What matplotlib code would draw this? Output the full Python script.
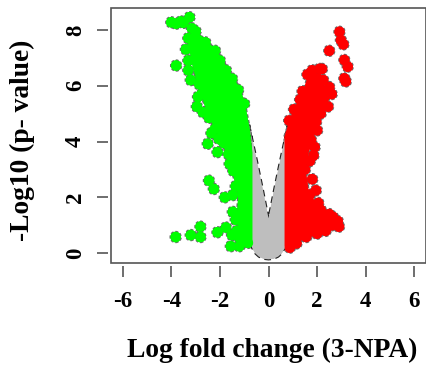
# Volcano plot: 3-NPA log fold change vs -log10 p
import numpy as np
import matplotlib
matplotlib.use('Agg')
import matplotlib.pyplot as plt
from matplotlib.patches import Polygon, Rectangle

plt.rcParams['axes.unicode_minus'] = False

# dense cloud outlines (log fold change, -log10 p)
grey_lfc = [-0.8, -0.5, -0.25, -0.08, 0.0, 0.08, 0.25, 0.5, 0.8, 0.68, 0.68, 0.55, 0.4, 0.2, 0.0, -0.2, -0.4, -0.55, -0.68, -0.68]
grey_nlp = [4.6, 3.4, 2.35, 1.6, 1.25, 1.6, 2.35, 3.4, 4.6, 4.0, 0.2, 0.0, -0.12, -0.2, -0.22, -0.2, -0.12, 0.0, 0.2, 4.0]

green_lfc = [-3.15, -2.85, -2.5, -2.15, -1.8, -1.45, -1.2, -0.99, -0.78, -0.66, -0.66, -0.9, -1.1, -1.25, -1.3, -1.25,
             -1.4, -1.55, -1.75, -2.0, -2.3, -2.55, -2.75, -2.95, -3.15, -3.3]
green_nlp = [8.0, 7.85, 7.55, 7.3, 6.8, 6.3, 5.95, 5.45, 4.5, 3.6, 0.3, 0.25, 0.4, 0.8, 1.4, 2.0,
             2.6, 3.1, 3.6, 4.1, 4.6, 5.1, 5.6, 6.1, 6.8, 7.5]

red_lfc = [0.66, 0.66, 0.85, 1.0, 1.25, 1.45, 1.6, 1.85, 2.15, 2.25, 2.45, 2.5, 2.35, 2.15, 1.95, 1.8, 1.65, 1.6,
           1.5, 1.6, 1.65, 1.85, 1.95, 2.45, 2.8, 2.85, 2.3, 1.55, 1.15, 0.85]
red_nlp = [0.25, 4.2, 4.7, 5.1, 5.5, 5.85, 6.3, 6.45, 6.45, 6.05, 5.85, 5.55, 5.2, 4.85, 4.4, 4.0, 3.6, 3.3,
           3.0, 2.6, 2.2, 1.95, 1.7, 1.45, 1.2, 0.95, 0.75, 0.55, 0.35, 0.15]

# individual genes at the edges of the clouds
down_lfc = [-4.0, -3.8, -3.6, -3.5, -3.25, -3.15, -3.0, -3.3, -3.1, -2.85, -3.4, -2.6, -2.4, -2.2, -3.3, -3.3,
            -3.2, -3.8, -2.85, -2.9, -2.95, -2.7, -2.75, -2.45, -2.35, -2.2, -2.5, -2.1, -2.05, -1.85, -1.65,
            -1.6, -1.45, -2.45, -2.25, -1.8, -1.47, -1.35, -1.47, -1.35, -1.75, -2.1, -2.8, -2.8, -3.2, -3.82,
            -1.55, -1.2, -0.85, -1.2, -1.3, -1.5, -2.0, -1.75, -1.5, -1.25, -1.0]
down_nlp = [8.27, 8.22, 8.3, 8.25, 8.45, 8.05, 7.95, 7.7, 7.5, 7.6, 7.3, 7.55, 7.2, 7.25, 6.9, 6.55,
            6.2, 6.72, 6.05, 5.6, 5.25, 5.05, 5.7, 4.85, 4.3, 4.45, 3.92, 3.62, 4.1, 3.95, 3.55,
            3.2, 2.95, 2.6, 2.3, 2.0, 2.08, 2.4, 1.48, 1.2, 0.92, 0.75, 0.95, 0.58, 0.65, 0.58,
            0.25, 0.25, 0.37, 0.55, 0.8, 0.65, 6.9, 6.55, 6.25, 5.85, 5.35]

up_lfc = [2.92, 2.98, 3.08, 2.5, 3.12, 3.26, 3.12, 3.18, 1.6, 1.8, 2.1, 2.2, 2.25, 2.5, 2.6, 2.3, 2.45, 2.15,
          1.96, 2.0, 1.75, 1.9, 1.85, 1.7, 1.5, 1.8, 1.95, 1.7, 2.05, 1.85, 2.15, 2.5, 2.65, 2.85, 2.9, 2.6,
          2.35, 2.0, 1.55, 1.15, 0.88, 1.3, 1.05, 0.85, 1.4]
up_nlp = [7.93, 7.63, 7.48, 7.25, 6.92, 6.68, 6.26, 6.15, 6.4, 6.55, 6.6, 6.6, 6.2, 5.95, 5.7, 5.6, 5.25, 5.0,
          4.71, 4.4, 4.05, 3.8, 3.5, 3.3, 3.0, 2.65, 2.25, 2.1, 1.8, 1.55, 1.55, 1.4, 1.3, 1.15, 0.95, 1.0,
          0.8, 0.7, 0.58, 0.35, 0.2, 5.5, 5.15, 4.75, 5.8]

x_ticks = [-6, -4, -2, 0, 2, 4, 6]
y_ticks = [0, 2, 4, 6, 8]

GREY = '#bebebe'
GREEN = '#00ff00'
RED = '#ff0000'
EDGE = '#6a6a6a'
DASH = (0, (1.6, 1.0))
SERIF = 'Liberation Serif'

fig = plt.figure(figsize=(4.26, 3.69), dpi=100)
ax = fig.add_axes([0.2606, 0.2873, 0.7394, 0.6909])

clouds = [(grey_lfc, grey_nlp, GREY, '#222222'), (green_lfc, green_nlp, GREEN, EDGE), (red_lfc, red_nlp, RED, EDGE)]
genes = [(down_lfc, down_nlp, GREEN), (up_lfc, up_nlp, RED)]

# pass 1: dashed outlines of everything, pass 2: fills on top so only the outer rim shows
for xs, ys, c, ec in clouds:
    ax.add_patch(Polygon(np.column_stack([xs, ys]), closed=True, facecolor=c,
                         edgecolor=ec, lw=1.6, ls=(0, (3, 2)) if ec != EDGE else DASH, zorder=2))
for xs, ys, c in genes:
    ax.scatter(xs, ys, s=58, c=c, edgecolors=EDGE, linewidths=1.3,
               linestyle=DASH, zorder=2)
for xs, ys, c, ec in clouds:
    ax.add_patch(Polygon(np.column_stack([xs, ys]), closed=True, facecolor=c,
                         edgecolor='none', zorder=3))
for xs, ys, c in genes:
    ax.scatter(xs, ys, s=58, c=c, edgecolors='none', zorder=4)

ax.set_xlim(-6.48, 6.48)
ax.set_ylim(-0.35, 8.78)

for side in ax.spines:
    ax.spines[side].set_visible(False)
ax.spines['bottom'].set_position(('outward', 2))
ax.spines['left'].set_position(('outward', 2))
ax.add_patch(Rectangle((0, 0), 1, 1, transform=ax.transAxes, fill=False,
                       ec='#555555', lw=1.2, clip_on=False, zorder=5))

ax.set_xticks(x_ticks)
ax.set_yticks(y_ticks)
ax.tick_params(direction='out', length=8, width=1.2, color='#555555')
ax.tick_params(axis='x', pad=10)
ax.tick_params(axis='y', pad=8)
for lab in ax.get_xticklabels():
    lab.set_fontfamily(SERIF)
    lab.set_fontweight('bold')
    lab.set_fontsize(16.5)
for lab in ax.get_yticklabels():
    lab.set_fontfamily(SERIF)
    lab.set_fontweight('bold')
    lab.set_fontsize(16.5)
    lab.set_rotation(90)
    lab.set_va('center')

fig.text(272 / 426, 1 - 350 / 369, 'Log fold change (3-NPA)', family=SERIF,
         weight='bold', fontsize=19.8, ha='center', va='center')
fig.text(22 / 426, 1 - 140 / 369, '-Log10 (p- value)', family=SERIF,
         weight='bold', fontsize=19.8, ha='center', va='center', rotation=90)

fig.savefig('out.png', dpi=100)
